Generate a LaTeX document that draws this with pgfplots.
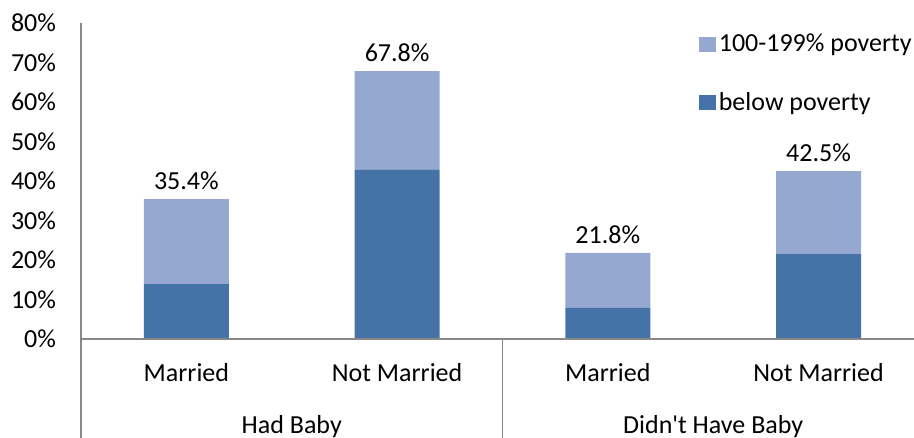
\documentclass[border=0pt]{standalone}
\usepackage{fontspec}
\setmainfont{Carlito}
\usepackage{pgfplots}
\pgfplotsset{compat=1.18}
\definecolor{darkb}{HTML}{4673A7}
\definecolor{lightb}{HTML}{95A9D0}
\definecolor{axgray}{HTML}{888888}
\pgfplotsset{common/.style={
  scale only axis, width=416.5bp, height=158bp,
  xmin=-0.5, xmax=3.453, ymin=0, ymax=80, clip=false}}
\begin{document}
\begin{tikzpicture}[font=\fontsize{13bp}{15bp}\selectfont]
\begin{axis}[common,
  ybar stacked, bar width=42.5bp,
  axis line style={draw=none},
  ytick={0,10,...,80},
  yticklabel={\pgfmathprintnumber{\tick}\%},
  /pgf/number format/assume math mode=true,
  yticklabel style={anchor=east, xshift=-9bp},
  xtick={0,1,2,3},
  xticklabels={Married,Not Married,Married,Not Married},
  xticklabel style={anchor=center, yshift=-17bp},
  major tick length=0pt,
  tick style={draw=none},
  legend style={at={(0.7417,0.976)}, anchor=north west, draw=none, fill=none,
    inner sep=0pt, row sep=15.75bp, nodes={inner sep=1.5bp, anchor=west}},
  legend image code/.code={\fill[#1] (0bp,-3.75bp) rectangle (8.3bp,3.75bp);},
  reverse legend,
  legend cell align=left,
]
\addplot[fill=darkb, draw=none] coordinates {(0,13.9) (1,42.8) (2,7.9) (3,21.6)};
\addlegendentry{below poverty}
\addplot[fill=lightb, draw=none] coordinates {(0,21.5) (1,25.0) (2,13.9) (3,20.9)};
\addlegendentry{100-199\% poverty}
\coordinate (O) at (rel axis cs:0,0);
\coordinate (T) at (rel axis cs:0,1);
\coordinate (R) at (rel axis cs:1,0);
\coordinate (S) at (axis cs:1.5,0);
\node[anchor=center] at (axis cs:0.5,0) [yshift=-44bp] {Had Baby};
\node[anchor=center] at (axis cs:2.5,0) [yshift=-44bp] {Didn\textquotesingle t Have Baby};
\end{axis}
\begin{axis}[common, hide axis, /pgf/number format/assume math mode=true]
\addplot[draw=none, mark=none,
  nodes near coords={\pgfmathprintnumber[fixed,precision=1,fixed zerofill]{\pgfplotspointmeta}\%},
  nodes near coords style={anchor=south, yshift=1bp, text=black}]
  coordinates {(0,35.4) (1,67.8) (2,21.8) (3,42.5)};
\end{axis}
\draw[axgray, line width=0.8bp] (T) -- (O) -- ([yshift=-49.5bp]O);
\draw[axgray, line width=0.8bp] (O) -- (R);
\draw[axgray, line width=0.8bp] (S) -- ([yshift=-49.5bp]S);
\pgfresetboundingbox
\path[use as bounding box] ([xshift=-40.5bp,yshift=-49.5bp]O) rectangle ++(457bp,219bp);
\end{tikzpicture}
\end{document}
